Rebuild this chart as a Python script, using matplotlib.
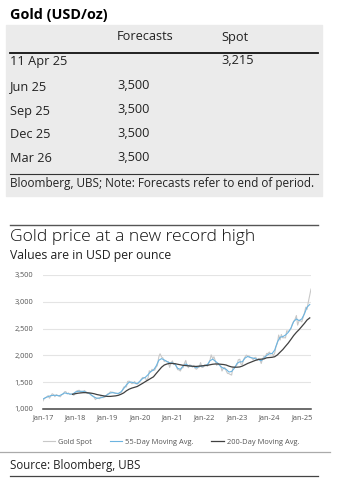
import matplotlib.pyplot as plt
import matplotlib.dates as mdates
import pandas as pd

plt.rcParams['font.family'] = ['Open Sans', 'DejaVu Sans']

# forecast table
row_labels = ['11 Apr 25', 'Jun 25', 'Sep 25', 'Dec 25', 'Mar 26']
forecasts = ['', '3,500', '3,500', '3,500', '3,500']
spot_now = ['3,215', '', '', '', '']

# gold spot, twice a month (1st and 15th), Jan 2017 - Apr 2025
spot = [
    1150, 1195, 1210, 1230, 1250, 1200, 1245, 1285, 1268, 1230, 1268, 1255,
    1242, 1228, 1268, 1275, 1320, 1325, 1280, 1300, 1270, 1280, 1275, 1255,
    1303, 1335, 1345, 1350, 1318, 1318, 1325, 1345, 1315, 1290, 1298, 1300,
    1252, 1240, 1223, 1175, 1201, 1200, 1192, 1228, 1215, 1212, 1222, 1240,
    1282, 1292, 1321, 1314, 1313, 1302, 1292, 1290, 1284, 1296, 1305, 1342,
    1409, 1412, 1413, 1515, 1520, 1500, 1472, 1482, 1513, 1470, 1464, 1476,
    1517, 1555, 1589, 1585, 1585, 1530, 1577, 1715, 1686, 1740, 1730, 1725,
    1781, 1810, 1975, 2030, 1968, 1955, 1886, 1905, 1879, 1885, 1776, 1855,
    1898, 1830, 1847, 1795, 1734, 1730, 1708, 1765, 1769, 1845, 1906, 1815,
    1770, 1825, 1814, 1780, 1814, 1755, 1743, 1768, 1783, 1865, 1774, 1780,
    1829, 1818, 1797, 1855, 1909, 2010, 1937, 1975, 1897, 1815, 1838, 1820,
    1807, 1708, 1766, 1775, 1711, 1665, 1660, 1645, 1633, 1775, 1768, 1795,
    1824, 1918, 1928, 1835, 1827, 1920, 1969, 2005, 1990, 1990, 1963, 1955,
    1919, 1955, 1965, 1905, 1940, 1925, 1849, 1930, 1983, 1965, 2036, 2035,
    2063, 2030, 2040, 1995, 2044, 2160, 2230, 2380, 2286, 2390, 2327, 2330,
    2327, 2460, 2448, 2460, 2503, 2580, 2635, 2665, 2744, 2565, 2643, 2650,
    2625, 2700, 2798, 2900, 2858, 2990, 3124, 3237,
]

# 55-day moving average, monthly, Jan 2017 - Apr 2025
ma55 = [
    1185, 1215, 1230, 1250, 1255, 1255, 1245, 1270, 1300, 1290, 1280, 1275,
    1315, 1330, 1330, 1330, 1315, 1295, 1260, 1225, 1200, 1205, 1215, 1240,
    1270, 1300, 1305, 1295, 1290, 1320, 1380, 1450, 1500, 1500, 1485, 1475,
    1520, 1570, 1590, 1640, 1700, 1725, 1800, 1910, 1940, 1915, 1885, 1860,
    1860, 1830, 1760, 1740, 1800, 1840, 1810, 1800, 1790, 1770, 1800, 1800,
    1810, 1830, 1900, 1930, 1890, 1850, 1790, 1760, 1740, 1690, 1700, 1760,
    1850, 1880, 1880, 1950, 1980, 1960, 1950, 1935, 1920, 1900, 1950, 2000,
    2030, 2035, 2100, 2250, 2340, 2350, 2380, 2430, 2510, 2630, 2680, 2650,
    2680, 2780, 2900, 2950,
]

# 200-day moving average, monthly, Dec 2017 - Apr 2025
ma200 = [
    1275,
    1285, 1295, 1300, 1305, 1305, 1300, 1295, 1285, 1270, 1260, 1250, 1240,
    1235, 1235, 1240, 1245, 1255, 1275, 1300, 1340, 1370, 1390, 1405, 1420,
    1450, 1480, 1510, 1540, 1570, 1600, 1660, 1720, 1780, 1820, 1840, 1850,
    1850, 1845, 1835, 1825, 1815, 1810, 1805, 1800, 1795, 1795, 1800, 1805,
    1810, 1815, 1825, 1835, 1840, 1840, 1835, 1830, 1820, 1800, 1785, 1780,
    1780, 1785, 1800, 1825, 1850, 1870, 1890, 1910, 1925, 1930, 1935, 1955,
    1960, 1965, 1975, 2010, 2060, 2110, 2170, 2230, 2300, 2370, 2430, 2480,
    2540, 2600, 2660, 2700,
]

spot_dates = pd.date_range('2017-01-01', periods=len(spot), freq='SMS')
ma55_dates = pd.date_range('2017-01-01', periods=len(ma55), freq='MS')
ma200_dates = pd.date_range('2017-12-01', periods=len(ma200), freq='MS')

W, H = 344, 488
fig = plt.figure(figsize=(W / 100, H / 100), dpi=100)


def px(x, y):
    return x / W, 1 - y / H


def hline(y, x0, x1, color, lw):
    fig.add_artist(plt.Line2D([x0 / W, x1 / W], [1 - y / H, 1 - y / H],
                              color=color, lw=lw, transform=fig.transFigure))


# table panel
fig.text(*px(10, 15), 'Gold (USD/oz)', fontsize=10.4, fontweight='bold',
         va='center', ha='left')
fig.add_artist(plt.Rectangle(px(6, 196), 316 / W, 171 / H, color='#ebebeb',
                             transform=fig.transFigure, zorder=0))
fig.text(*px(117, 37), 'Forecasts', fontsize=9.2, va='center', color='#222222')
fig.text(*px(221, 37), 'Spot', fontsize=9.2, va='center', color='#222222')
hline(53, 10, 318, '#111111', 1.3)
row_y = [62, 87, 111, 135, 159]
for lab, fc, sp, y in zip(row_labels, forecasts, spot_now, row_y):
    fig.text(*px(10, y), lab, fontsize=9.2, va='center', color='#222222')
    fig.text(*px(117, y - 1.5), fc, fontsize=9.2, va='center', color='#222222')
    fig.text(*px(221, y - 1.5), sp, fontsize=9.2, va='center', color='#222222')
hline(174, 10, 318, '#333333', 0.8)
fig.text(*px(10, 183), 'Bloomberg, UBS; Note: Forecasts refer to end of period.',
         fontsize=8.5, va='center', color='#222222')

# chart panel
hline(225, 10, 318, '#555555', 1.0)
fig.text(*px(10, 237), 'Gold price at a new record high', fontsize=12.6,
         fontweight='light', va='center', color='#111111')
fig.text(*px(10, 256), 'Values are in USD per ounce', fontsize=8.8,
         va='center', color='#222222')

ax = fig.add_axes([43 / W, 1 - 409 / H, 268 / W, 134 / H])
ax.plot(spot_dates, spot, color='#c8c8c8', lw=0.8, label='Gold Spot')
ax.plot(ma55_dates, ma55, color='#6cb4e0', lw=0.8, label='55-Day Moving Avg.')
ax.plot(ma200_dates, ma200, color='#404040', lw=0.9, label='200-Day Moving Avg.')
ax.set_ylim(1000, 3500)
ax.set_yticks([1000, 1500, 2000, 2500, 3000, 3500])
ax.yaxis.set_major_formatter(plt.FuncFormatter(lambda v, p: f'{v:,.0f}'))
ax.set_xlim(pd.Timestamp('2017-01-01'), pd.Timestamp('2025-04-15'))
ax.xaxis.set_major_locator(mdates.YearLocator())
ax.xaxis.set_major_formatter(mdates.DateFormatter('%b-%y'))
ax.grid(axis='y', color='#e4e4e4', lw=0.8)
ax.set_axisbelow(True)
for s in ['left', 'right', 'top']:
    ax.spines[s].set_visible(False)
ax.spines['bottom'].set_color('#444444')
ax.spines['bottom'].set_linewidth(1.1)
ax.tick_params(length=0, labelsize=5.3, labelcolor='#555555', pad=4)
ax.tick_params(axis='y', pad=7)
ax.legend(loc='center', bbox_to_anchor=(171 / W, 1 - 442 / H),
          bbox_transform=fig.transFigure, ncol=3, frameon=False,
          fontsize=5.4, handlelength=1.7, columnspacing=2.3,
          handletextpad=0.4, labelcolor='#555555')

hline(452, 0, 330, '#aaaaaa', 0.9)
fig.text(*px(10, 465), 'Source: Bloomberg, UBS', fontsize=8.3, va='center',
         color='#222222')
hline(476, 10, 318, '#444444', 0.9)

fig.savefig('out.png', dpi=100, facecolor='white')
